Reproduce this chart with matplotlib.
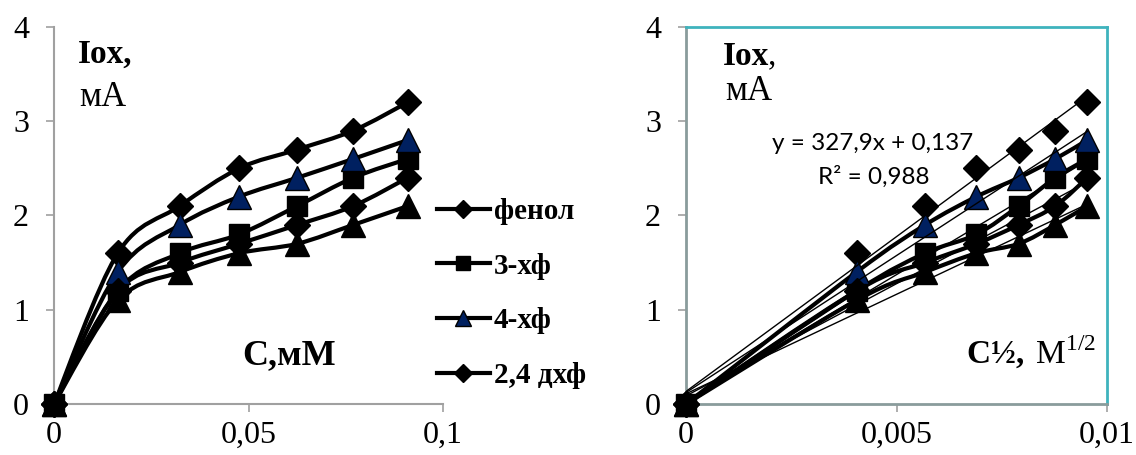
import numpy as np
import matplotlib
matplotlib.use("Agg")
from matplotlib import pyplot as plt
from matplotlib.path import Path
from matplotlib.patches import PathPatch
from matplotlib.font_manager import FontProperties

plt.rcParams['font.family'] = ['Liberation Serif', 'DejaVu Sans']
plt.rcParams['mathtext.fontset'] = 'custom'
plt.rcParams['mathtext.rm'] = 'Liberation Serif'
plt.rcParams['mathtext.bf'] = 'Liberation Serif:bold'

# concentration, mM, and square root of concentration, M^1/2
conc_mm = [0, 0.0164, 0.0323, 0.0476, 0.0625, 0.0769, 0.0909]
sqrt_c = [0, 0.00405, 0.00568, 0.0069, 0.0079, 0.00877, 0.00953]

# oxidation current, mA
i_phenol = [0, 1.6, 2.1, 2.5, 2.7, 2.9, 3.2]
i_3cp = [0, 1.2, 1.6, 1.8, 2.1, 2.4, 2.6]
i_4cp = [0, 1.4, 1.9, 2.2, 2.4, 2.6, 2.8]
i_24dcp = [0, 1.2, 1.5, 1.7, 1.9, 2.1, 2.4]
i_other = [0, 1.1, 1.4, 1.6, 1.7, 1.9, 2.1]

labels = ['фенол', '3-хф', '4-хф', '2,4 дхф', None]
y_ticks = [0, 1, 2, 3, 4]
y_ticklabels = ['0', '1', '2', '3', '4']
x1_ticks = [0, 0.05, 0.1]
x1_ticklabels = ['0', '0,05', '0,1']
x2_ticks = [0, 0.005, 0.01]
x2_ticklabels = ['0', '0,005', '0,01']

series = [i_phenol, i_3cp, i_4cp, i_24dcp, i_other]
styles = [dict(marker='D', ms=13, mfc='black'),
          dict(marker='s', ms=14.5, mfc='black'),
          dict(marker='^', ms=17, mfc='#002060'),
          dict(marker='D', ms=13, mfc='black'),
          dict(marker='^', ms=17, mfc='black')]

GRAY = '#a0a0a0'
TEAL = '#3fb3bd'


def smooth_path(x, y, t=1 / 6):
    pts = np.column_stack([x, y]).astype(float)
    verts = [pts[0]]
    codes = [Path.MOVETO]
    n = len(pts)
    for i in range(n - 1):
        p0 = pts[i - 1] if i > 0 else pts[i]
        p1 = pts[i]
        p2 = pts[i + 1]
        p3 = pts[i + 2] if i + 2 < n else p2
        verts += [p1 + (p2 - p0) * t, p2 - (p3 - p1) * t, p2]
        codes += [Path.CURVE4] * 3
    return Path(verts, codes)


def style_axis(ax, xticks, xticklabels):
    ax.set_xlim(0, xticks[-1])
    ax.set_ylim(0, 4)
    ax.set_xticks(xticks)
    ax.set_xticklabels(xticklabels)
    ax.set_yticks(y_ticks)
    ax.set_yticklabels(y_ticklabels)
    ax.tick_params(axis='both', direction='out', length=6, width=1.2, color=GRAY,
                   labelsize=23)
    ax.tick_params(axis='y', pad=12)
    ax.tick_params(axis='x', pad=6)


fig = plt.figure(figsize=(11.36, 4.55), dpi=100)
ax1 = fig.add_axes([54 / 1136, 1 - 404 / 455, 389 / 1136, 377 / 455])
ax2 = fig.add_axes([686 / 1136, 1 - 404 / 455, 421 / 1136, 377 / 455])

# left chart: current vs concentration
handles = []
for y, st, lab in zip(series, styles, labels):
    ax1.add_patch(PathPatch(smooth_path(conc_mm, y), fill=False, lw=3, ec='black',
                            zorder=2, clip_on=False))
    ax1.plot(conc_mm, y, ls='none', mec='black', mew=1, zorder=3, clip_on=False, **st)
    if lab:
        h, = ax1.plot([], [], color='black', lw=3, mec='black', mew=1, **st)
        handles.append((h, lab))

style_axis(ax1, x1_ticks, x1_ticklabels)
for s in ['top', 'right']:
    ax1.spines[s].set_visible(False)
for s in ['left', 'bottom']:
    ax1.spines[s].set_color(GRAY)
    ax1.spines[s].set_linewidth(1.5)

ax1.legend([h for h, _ in handles], [l for _, l in handles], loc='center left',
           bbox_to_anchor=(0.985, 0.293), frameon=False, borderpad=0, borderaxespad=0,
           prop=FontProperties(family='Liberation Serif', weight='bold', size=21),
           handlelength=1.8, handletextpad=0.15, labelspacing=0.95, markerscale=0.7)

ax1.text(0.062, 0.905, 'Iox,', transform=ax1.transAxes, fontsize=24, fontweight='bold')
ax1.text(0.066, 0.79, 'мА', transform=ax1.transAxes, fontsize=25)
ax1.text(0.483, 0.106, 'C,мМ', transform=ax1.transAxes, fontsize=26, fontweight='bold')

# right chart: current vs square root of concentration
for k, (y, st) in enumerate(zip(series, styles)):
    if k > 0:
        ax2.add_patch(PathPatch(smooth_path(sqrt_c, y), fill=False, lw=3, ec='black',
                                zorder=2, clip_on=False))
    ax2.plot(sqrt_c, y, ls='none', mec='black', mew=1, zorder=3, clip_on=False, **st)
    slope, icpt = np.polyfit(sqrt_c, y, 1)
    xs = np.array([0, sqrt_c[-1]])
    ax2.plot(xs, slope * xs + icpt, color='black', lw=1, zorder=4)

style_axis(ax2, x2_ticks, x2_ticklabels)
for s in ['top', 'right']:
    ax2.spines[s].set_color(TEAL)
    ax2.spines[s].set_linewidth(2)
for s in ['left', 'bottom']:
    ax2.spines[s].set_color('#8a9c9c')
    ax2.spines[s].set_linewidth(2)

ax2.text(0.088, 0.9, 'Iox', transform=ax2.transAxes, fontsize=24, fontweight='bold')
ax2.text(0.088 + 0.107, 0.9, ',', transform=ax2.transAxes, fontsize=24)
ax2.text(0.093, 0.806, 'мА', transform=ax2.transAxes, fontsize=25)
ax2.text(0.443, 0.674, 'y = 327,9x + 0,137', transform=ax2.transAxes, fontsize=17.5,
         family='Lato', ha='center', zorder=6)
ax2.text(0.447, 0.584, 'R² = 0,988', transform=ax2.transAxes, fontsize=17.5,
         family='Lato', ha='center', zorder=6)
ax2.text(0.665, 0.106, r'$\mathbf{C½,}\,\mathrm{M}^{1/2}$', transform=ax2.transAxes,
         fontsize=24)

fig.savefig('out.png', dpi=100)
